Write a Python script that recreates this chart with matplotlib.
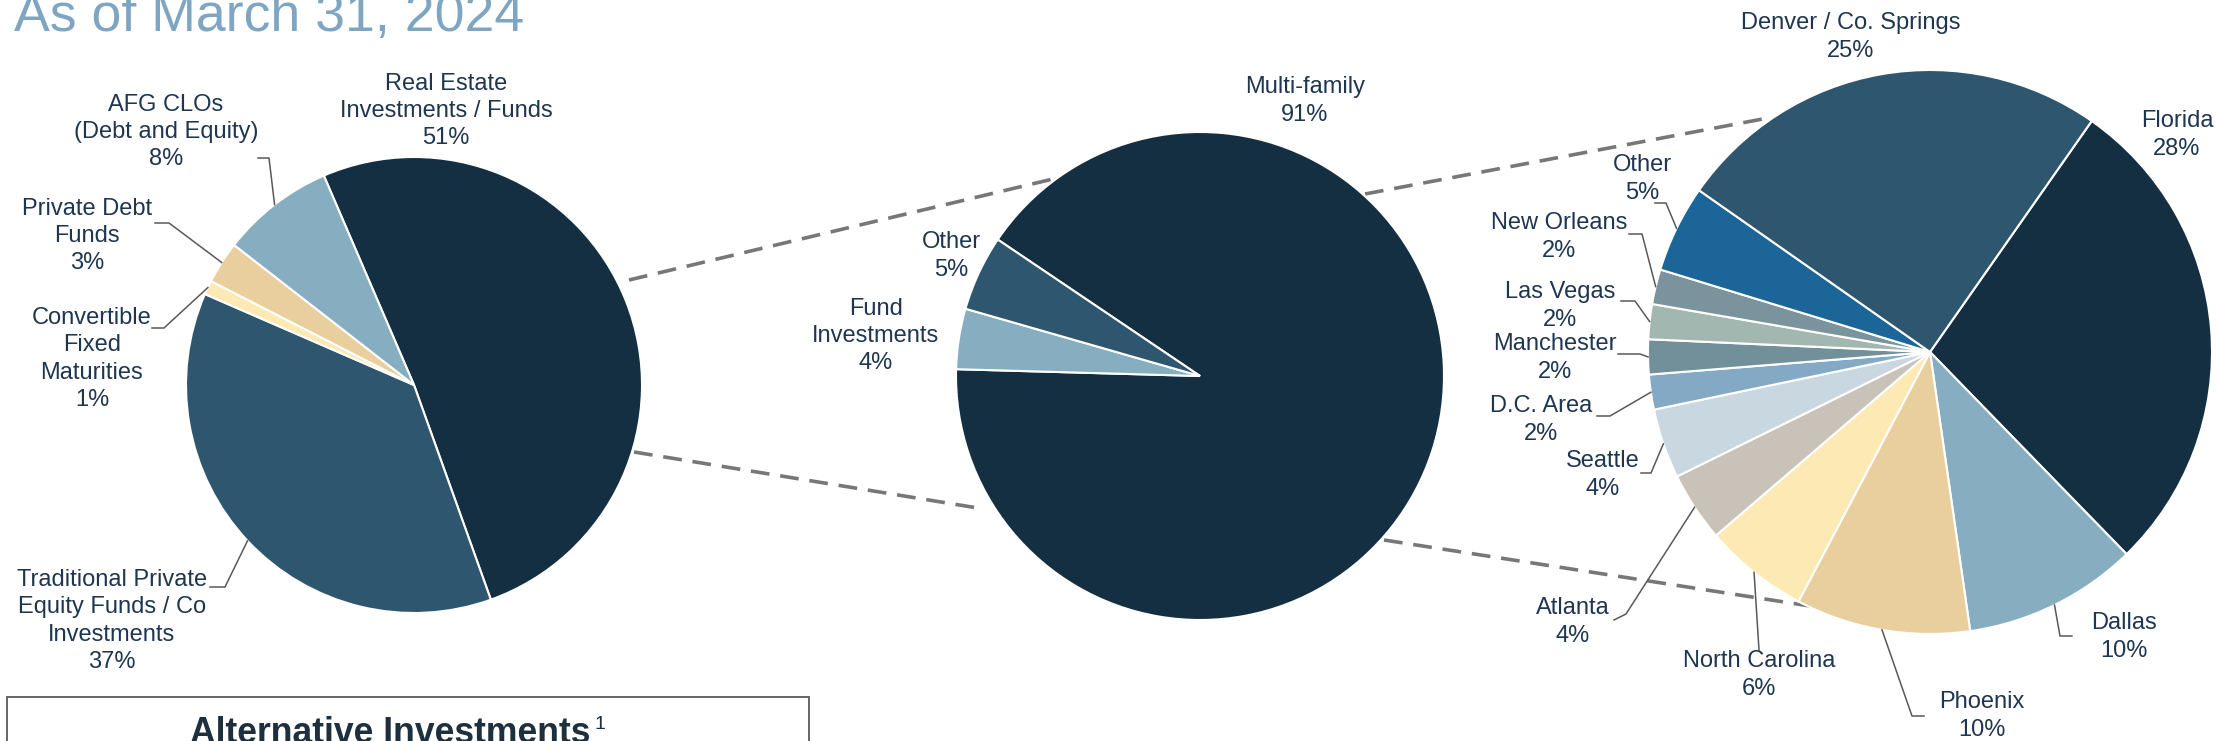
import matplotlib
matplotlib.use('Agg')
import matplotlib.pyplot as plt
from matplotlib.patches import Rectangle
import numpy as np

plt.rcParams['font.family'] = ['Liberation Sans', 'DejaVu Sans']

W, H = 2217, 741  # canvas in pixels, dpi 100

# ---- data ----
alt_labels = ['Real Estate\nInvestments / Funds',
              'Traditional Private\nEquity Funds / Co\nInvestments',
              'Convertible\nFixed\nMaturities',
              'Private Debt\nFunds',
              'AFG CLOs\n(Debt and Equity)']
alt_values = [51, 37, 1, 3, 8]

re_labels = ['Multi-family', 'Fund\nInvestments', 'Other']
re_values = [91, 4, 5]

mf_labels = ['Florida', 'Dallas', 'Phoenix', 'North Carolina', 'Atlanta',
             'Seattle', 'D.C. Area', 'Manchester', 'Las Vegas',
             'New Orleans', 'Other', 'Denver / Co. Springs']
mf_values = [28, 10, 10, 6, 4, 4, 2, 2, 2, 2, 5, 25]

# ---- colours ----
NAVY = '#152f42'
SLATE = '#2e566e'
LBLUE = '#86aec0'
TAN = '#e9cf9e'
YELLOW = '#fce9b3'
alt_colors = [NAVY, SLATE, YELLOW, TAN, LBLUE]
re_colors = [NAVY, LBLUE, SLATE]
mf_colors = [NAVY, LBLUE, TAN, YELLOW, '#c9c2b8', '#c9d7e0', '#84a9c5',
             '#71909a', '#a2b7b0', '#7a939c', '#1b6598', SLATE]
TXT = '#1f3651'
LEAD = '#595959'

# ---- layout (pixel coords, y measured from top) ----
# pie: centre, radius, start angle
alt_geo = ((414, 385), 228, 113.3)
re_geo = ((1200, 376), 244, 146)
mf_geo = ((1930, 352), 282, 55)

# label text centre and leader-line start points (None = no leader)
alt_pos = [((446, 111), None),
           ((112, 621), [(210, 587), (225, 587)]),
           ((92, 359), [(152, 328), (164, 328)]),
           ((87, 236), [(155, 223), (169, 223)]),
           ((166, 132), [(258, 158), (269, 158)])]
re_pos = [((1305, 101), None),
          ((876, 336), None),
          ((951, 256), None)]
mf_pos = [((2177, 135), None),
          ((2124, 637), [(2072, 636), (2060, 636)]),
          ((1982, 716), [(1924, 716), (1912, 716)]),
          ((1759, 675), [(1759, 650)]),
          ((1573, 622), [(1614, 620), (1626, 614)]),
          ((1603, 475), [(1641, 473), (1651, 473)]),
          ((1541, 420), [(1597, 416), (1610, 416)]),
          ((1555, 358), [(1618, 354), (1640, 354)]),
          ((1560, 306), [(1621, 301), (1635, 301)]),
          ((1559, 237), [(1629, 234), (1642, 234)]),
          ((1642, 179), [(1655, 203), (1666, 203)]),
          ((1851, 37), None)]

# dashed connectors between pies
connectors = [[(629, 280), (1053, 179)],
              [(634, 452), (984, 509)],
              [(1365, 194), (1768, 118)],
              [(1384, 540), (1810, 606)]]

fig = plt.figure(figsize=(W / 100, H / 100), dpi=100)
ax = fig.add_axes([0, 0, 1, 1])


def draw_pie(values, colors, labels, geo, pos):
    (cx, cy), r, start = geo
    wedges, _ = ax.pie(values, colors=colors, startangle=start, counterclock=False,
                       center=(cx, H - cy), radius=r, frame=True,
                       wedgeprops=dict(edgecolor='white', linewidth=1.5))
    for w, lab, v, (tp, lead) in zip(wedges, labels, values, pos):
        ax.text(tp[0], H - tp[1], f'{lab}\n{v}%', ha='center', va='center',
                fontsize=17, color=TXT, linespacing=1.3, zorder=5)
        if lead is not None:
            mid = np.deg2rad((w.theta1 + w.theta2) / 2)
            px = [p[0] for p in lead] + [cx + r * np.cos(mid)]
            py = [H - p[1] for p in lead] + [H - cy + r * np.sin(mid)]
            ax.plot(px, py, color=LEAD, lw=1.1, zorder=4)


for seg in connectors:
    ax.plot([p[0] for p in seg], [H - p[1] for p in seg], color='#777777',
            lw=2.6, dashes=(5.2, 3.0), zorder=0.5, solid_capstyle='butt')

draw_pie(alt_values, alt_colors, alt_labels, alt_geo, alt_pos)
draw_pie(re_values, re_colors, re_labels, re_geo, re_pos)
draw_pie(mf_values, mf_colors, mf_labels, mf_geo, mf_pos)

# title (cut by top edge as in the source slide)
ax.text(14, H - 31, 'As of March 31, 2024', fontsize=38.6, color='#7ea6c2',
        ha='left', va='baseline')

# bottom box
ax.add_patch(Rectangle((7, -20), 802, H - 697 + 20, fill=False,
                       edgecolor=LEAD, lw=1.3, zorder=3))
ax.text(591, H - 743, 'Alternative Investments', fontsize=25.6, fontweight='bold',
        color='#1e2f3d', ha='right', va='baseline')
ax.text(594, H - 729, '1', fontsize=14, color='#1e2f3d', ha='left', va='baseline')

ax.set_xlim(0, W)
ax.set_ylim(0, H)
ax.set_aspect('equal')
ax.axis('off')

fig.savefig('out.png', dpi=100)
